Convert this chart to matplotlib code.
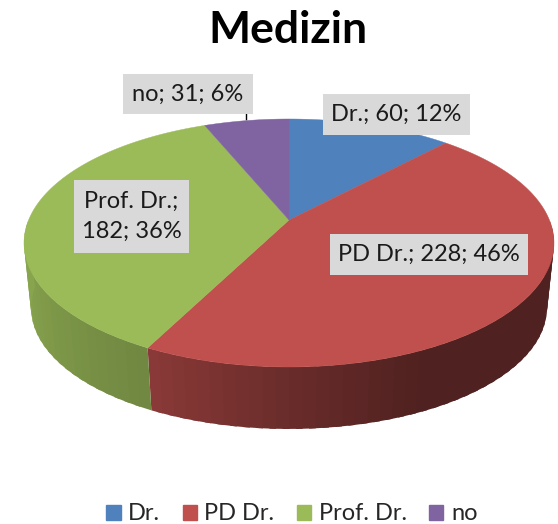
import matplotlib
matplotlib.use("Agg")
import matplotlib.pyplot as plt
from matplotlib.patches import Patch, Rectangle
import numpy as np

plt.rcParams['font.family'] = ['Lato', 'DejaVu Sans']

# chart data
names = ["Dr.", "PD Dr.", "Prof. Dr.", "no"]
values = [60, 228, 182, 31]
percent = [12, 46, 36, 6]
colors = ["#4F81BD", "#C0504D", "#9BBB59", "#8064A2"]

# geometry of the tilted pie, in pixels
cx, cy = 289, 243
rx, ry = 265, 124
bot_cx, bot_cy = 289, 308
bot_rx, bot_ry = 258, 121
squeeze = 0.829  # perspective: moves the apex up from the ellipse centre
apex_y = cy - ry * np.cos(2 * np.arctan(squeeze))


def to_phi(theta):
    # true pie angle -> angle on the drawn ellipse (clockwise from top)
    t = np.arctan2(np.sin(theta / 2) * squeeze, np.cos(theta / 2))
    return 2 * t


def top_pt(phi):
    return cx + rx * np.sin(phi), cy - ry * np.cos(phi)


def bot_pt(phi):
    return bot_cx + bot_rx * np.sin(phi), bot_cy - bot_ry * np.cos(phi)


def shade(color, phi):
    # wall gets darker towards the right hand side
    f = np.interp(np.degrees(phi), [90, 150, 180, 212, 240, 270],
                  [0.41, 0.41, 0.55, 0.72, 0.80, 0.88])
    rgb = np.array(matplotlib.colors.to_rgb(color)) * f
    return tuple(rgb)


fig = plt.figure(figsize=(5.58, 5.24), dpi=100)
ax = fig.add_axes([0, 0, 1, 1])
ax.set_xlim(0, 558)
ax.set_ylim(524, 0)
ax.axis("off")

edges = np.cumsum([0] + values) / sum(values) * 2 * np.pi

# side wall
for i in range(len(values)):
    p0, p1 = to_phi(edges[i]), to_phi(edges[i + 1])
    lo, hi = max(p0, np.radians(80)), min(p1, np.radians(280))
    if hi <= lo:
        continue
    steps = np.linspace(lo, hi, int((hi - lo) / np.radians(3)) + 2)
    for a, b in zip(steps[:-1], steps[1:]):
        # overlap each band a bit into the next so no seams show
        b2 = min(b + np.radians(1.5), hi)
        xa, ya = top_pt(a)
        xb, yb = top_pt(b2)
        xc, yc = bot_pt(b2)
        xd, yd = bot_pt(a)
        c = shade(colors[i], (a + b) / 2)
        ax.fill([xa, xb, xc, xd], [ya, yb, yc, yd], color=c, lw=0)

# top face
for i in range(len(values)):
    phi = to_phi(np.linspace(edges[i], edges[i + 1], 200))
    x, y = top_pt(phi)
    ax.fill(np.r_[cx, x], np.r_[apex_y, y], color=colors[i], lw=0.3)

# leader line of the "no" label
ax.plot([246, 246], [113, 119], color="black", lw=1)

# data labels
label_text = [f"{n}; {v}; {p}%" for n, v, p in zip(names, values, percent)]
label_text[2] = label_text[2].replace("; ", ";\n", 1)
boxes = [(323, 94, 147, 41), (330, 234, 198, 41), (74, 180, 115, 73), (123, 74, 130, 40)]
for txt, (bx, by, bw, bh) in zip(label_text, boxes):
    ax.add_patch(Rectangle((bx, by), bw, bh, fc="#D9D9D9", ec="none", zorder=3))
    ax.text(bx + bw / 2, by + bh / 2, txt, ha="center", va="center", fontsize=17,
            color="#1a1a1a", linespacing=1.5, zorder=4)

ax.text(288, 30, "Medizin", ha="center", va="center", fontsize=32, fontweight="bold", color="black")

handles = [Patch(color=c, label=n) for c, n in zip(colors, names)]
ax.legend(handles=handles, ncol=4, frameon=False, loc="center", bbox_to_anchor=(292 / 558, 1 - 514 / 524),
          fontsize=17, handlelength=0.6, handleheight=0.6, handletextpad=0.32, columnspacing=0.95,
          borderpad=0, labelcolor="#262626")

fig.savefig("out.png", dpi=100)
